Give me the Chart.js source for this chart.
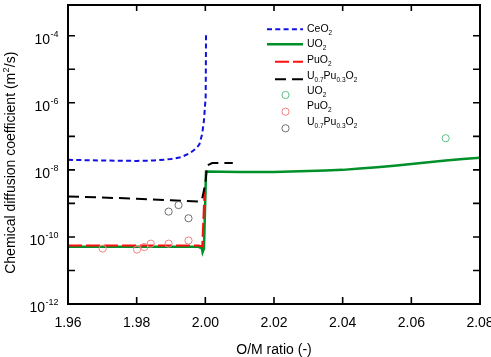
<!DOCTYPE html>
<html><head><meta charset="utf-8">
<script src="https://cdn.jsdelivr.net/npm/chart.js@4.4.1/dist/chart.umd.min.js"></script>
<style>html,body{margin:0;padding:0;background:#fff}#wrap{width:491px;height:357px;position:relative}</style>
</head><body><div id="wrap"><canvas id="c"></canvas></div>
<script>
// ---- data ----
const ceo2X = [1.96, 1.97, 1.98, 1.985, 1.99, 1.993, 1.9956, 1.9975, 1.9983, 1.9991, 1.9996, 2.0001, 2.0002];
const ceo2Y = [2.0e-8, 1.9e-8, 1.85e-8, 1.9e-8, 2.1e-8, 2.4e-8, 3.2e-8, 4.5e-8, 5.9e-8, 1.2e-7, 3e-7, 1.5e-6, 1.05e-4];

const uo2X = [1.96, 1.998, 1.999, 1.9992, 1.9996, 2.0002, 2.01, 2.02, 2.03, 2.035, 2.04, 2.045, 2.05, 2.055, 2.06, 2.065, 2.07, 2.075, 2.08];
const uo2Y = [5.1e-11, 5.1e-11, 4.6e-11, 3.5e-11, 4.5e-11, 8.9e-9, 8.6e-9, 8.7e-9, 9.2e-9, 9.6e-9, 1.0e-8, 1.1e-8, 1.2e-8, 1.33e-8, 1.5e-8, 1.7e-8, 1.9e-8, 2.1e-8, 2.3e-8];

const puo2X = [1.96, 1.998, 1.9991, 1.9998];
const puo2Y = [5.6e-11, 5.6e-11, 5.2e-11, 2.8e-9];

const moxX = [1.96, 1.97, 1.98, 1.99, 1.998, 1.999, 2.0, 2.0005, 2.002, 2.008];
const moxY = [1.61e-9, 1.5e-9, 1.38e-9, 1.24e-9, 1.13e-9, 1.3e-9, 3.8e-9, 1.35e-8, 1.6e-8, 1.6e-8];

const uo2ExpX = [2.07];
const uo2ExpY = [8.8e-8];
const puo2ExpX = [1.9701, 1.9801, 1.9822, 1.9841, 1.9893, 1.9951];
const puo2ExpY = [4.5e-11, 4.2e-11, 5.0e-11, 6.3e-11, 6.3e-11, 7.8e-11];
const moxExpX = [1.9893, 1.9922, 1.9951];
const moxExpY = [5.7e-10, 8.9e-10, 3.6e-10];

const seriesNames = ['CeO_2', 'UO_2', 'PuO_2', 'U_{0.7}Pu_{0.3}O_2', 'UO_2', 'PuO_2', 'U_{0.7}Pu_{0.3}O_2'];
const xTicks = [1.96, 1.98, 2.00, 2.02, 2.04, 2.06, 2.08];
const yLabelExps = [-12, -10, -8, -6, -4];
const yTickExps = [-11, -10, -9, -8, -7, -6, -5, -4];
const xTitle = 'O/M ratio (-)';
const yTitle = ['Chemical diffusion coefficient (m', '2', '/s)'];

// ---- build ----
const pts = (xs, ys) => xs.map((x, i) => ({x, y: ys[i]}));
const FONT = '"Liberation Sans", Arial, Helvetica, sans-serif';
Chart.defaults.font.family = FONT;

const datasets = [
  {label: seriesNames[0], data: pts(ceo2X, ceo2Y), showLine: true, pointRadius: 0, borderColor: '#1010e0', borderWidth: 2, borderDash: [5, 3.3], order: 4, kind: 'line'},
  {label: seriesNames[1], data: pts(uo2X, uo2Y), showLine: true, pointRadius: 0, borderColor: '#00902a', borderWidth: 2.5, order: 3, kind: 'line'},
  {label: seriesNames[2], data: pts(puo2X, puo2Y), showLine: true, pointRadius: 0, borderColor: '#ff1010', borderWidth: 2, borderDash: [14, 4], order: 2, kind: 'line'},
  {label: seriesNames[3], data: pts(moxX, moxY), showLine: true, pointRadius: 0, borderColor: '#000000', borderWidth: 2, borderDash: [11, 6], order: 1, kind: 'line'},
  {label: seriesNames[4], data: pts(uo2ExpX, uo2ExpY), showLine: false, pointRadius: 3.6, pointStyle: 'circle', borderColor: '#5cbf84', backgroundColor: 'rgba(0,0,0,0)', borderWidth: 1, order: 0, kind: 'point'},
  {label: seriesNames[5], data: pts(puo2ExpX, puo2ExpY), showLine: false, pointRadius: 3.6, pointStyle: 'circle', borderColor: '#f28080', backgroundColor: 'rgba(0,0,0,0)', borderWidth: 1, order: 0, kind: 'point'},
  {label: seriesNames[6], data: pts(moxExpX, moxExpY), showLine: false, pointRadius: 3.6, pointStyle: 'circle', borderColor: '#707070', backgroundColor: 'rgba(0,0,0,0)', borderWidth: 1, order: 0, kind: 'point'}
];

function parts(s) {
  const out = []; const re = /_\{([^}]*)\}|_(\w)|([^_]+)/g; let m;
  while ((m = re.exec(s))) { if (m[3]) out.push([m[3], 0]); else out.push([m[1] || m[2], 1]); }
  return out;
}

const decor = {
  id: 'decor',
  afterDatasetsDraw(chart) {
    const {ctx, chartArea: a, scales: {x, y}} = chart;
    ctx.save();
    ctx.strokeStyle = '#000'; ctx.lineWidth = 2; ctx.setLineDash([]);
    ctx.strokeRect(a.left, a.top, a.right - a.left, a.bottom - a.top);
    ctx.lineWidth = 1.6;
    ctx.beginPath();
    xTicks.slice(1, -1).forEach(v => {
      const px = x.getPixelForValue(v);
      ctx.moveTo(px, a.bottom); ctx.lineTo(px, a.bottom - 7);
      ctx.moveTo(px, a.top); ctx.lineTo(px, a.top + 6);
    });
    yTickExps.forEach(e => {
      const py = y.getPixelForValue(Math.pow(10, e));
      ctx.moveTo(a.left, py); ctx.lineTo(a.left + 7, py);
      ctx.moveTo(a.right, py); ctx.lineTo(a.right - 7, py);
    });
    ctx.stroke();

    // y tick labels 10^n
    ctx.fillStyle = '#000'; ctx.textBaseline = 'alphabetic'; ctx.textAlign = 'left';
    yLabelExps.forEach(e => {
      const py = y.getPixelForValue(Math.pow(10, e));
      ctx.font = '14px ' + FONT; const w1 = ctx.measureText('10').width;
      ctx.font = '9px ' + FONT; const sup = String(e); const w2 = ctx.measureText(sup).width;
      const x0 = 58 - w1 - w2;
      ctx.font = '14px ' + FONT; ctx.fillText('10', x0, py + 8);
      ctx.font = '9px ' + FONT; ctx.fillText(sup, x0 + w1 + 0.5, py + 1);
    });

    // x title
    ctx.font = '14px ' + FONT; ctx.textAlign = 'center';
    ctx.fillText(xTitle, (a.left + a.right) / 2, 354);

    // y title (rotated, with superscript)
    ctx.save();
    ctx.translate(14.5, 163); ctx.rotate(-Math.PI / 2);
    ctx.textAlign = 'left';
    ctx.font = '14px ' + FONT; const t0 = ctx.measureText(yTitle[0]).width, t2 = ctx.measureText(yTitle[2]).width;
    ctx.font = '9px ' + FONT; const t1 = ctx.measureText(yTitle[1]).width;
    let cx = -(t0 + t1 + t2) / 2;
    ctx.font = '14px ' + FONT; ctx.fillText(yTitle[0], cx, 0); cx += t0;
    ctx.font = '9px ' + FONT; ctx.fillText(yTitle[1], cx + 0.3, -6); cx += t1 + 0.6;
    ctx.font = '14px ' + FONT; ctx.fillText(yTitle[2], cx, 0);
    ctx.restore();

    // legend
    const symY = [29.3, 44.3, 61.7, 79.3, 95, 111.7, 128.3];
    const txtY = [28.3, 43.3, 59, 75, 90, 105.3, 120.7];
    chart.data.datasets.forEach((ds, i) => {
      const sy = symY[i];
      ctx.save();
      ctx.strokeStyle = ds.borderColor;
      if (ds.kind === 'line') {
        ctx.lineWidth = ds.borderWidth;
        ctx.setLineDash(ds.borderDash || []);
        const x1 = ds.borderDash && ds.borderDash[0] > 8 ? 275 : 267;
        ctx.beginPath(); ctx.moveTo(x1, sy); ctx.lineTo(303, sy); ctx.stroke();
      } else {
        ctx.lineWidth = 1; ctx.setLineDash([]);
        ctx.beginPath(); ctx.arc(285.5, sy, 3.6, 0, Math.PI * 2); ctx.stroke();
      }
      ctx.restore();
      let tx = 307; const base = txtY[i] + 3.8;
      ctx.textAlign = 'left'; ctx.fillStyle = '#000';
      parts(ds.label).forEach(([t, sub]) => {
        ctx.font = (sub ? '6.5px ' : '10.5px ') + FONT;
        ctx.fillText(t, tx, sub ? base + 3 : base);
        tx += ctx.measureText(t).width;
      });
    });
    ctx.restore();
  }
};

new Chart(document.getElementById('c'), {
  type: 'scatter',
  data: {datasets},
  options: {
    responsive: true, maintainAspectRatio: false, animation: false,
    layout: {padding: {top: 2, right: 11, left: 0, bottom: 0}},
    plugins: {legend: {display: false}, tooltip: {enabled: false}},
    elements: {line: {tension: 0}},
    scales: {
      x: {
        type: 'linear', min: 1.96, max: 2.08,
        grid: {display: false}, border: {display: false},
        afterBuildTicks: s => { s.ticks = xTicks.map(v => ({value: v})); },
        ticks: {color: '#000', font: {size: 14}, padding: 3, maxRotation: 0, autoSkip: false,
                callback: v => Number(v).toFixed(2)},
        afterFit: s => { s.height = 53; s.paddingLeft = 0; s.paddingRight = 0; }
      },
      y: {
        type: 'logarithmic', min: 1e-12, max: 8.26e-4,
        grid: {display: false}, border: {display: false},
        ticks: {display: false},
        afterFit: s => { s.width = 68; }
      }
    }
  },
  plugins: [decor]
});
</script>
</body></html>
